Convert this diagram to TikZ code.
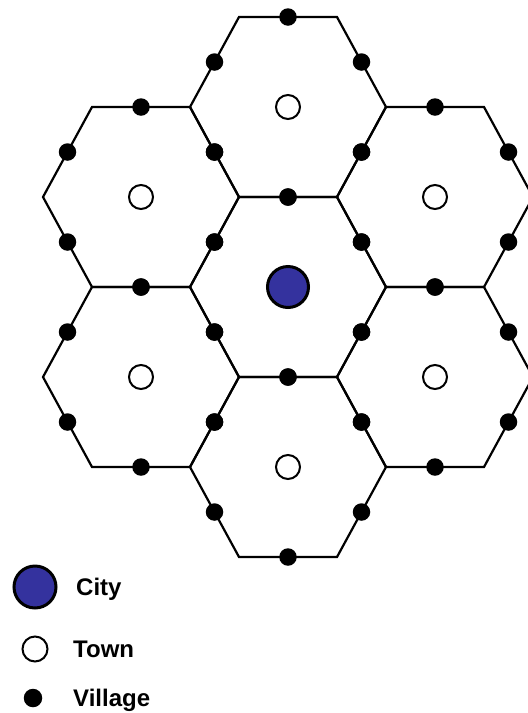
\documentclass[tikz,border=0pt]{standalone}
\usepackage{fontspec}
\setmainfont{Liberation Sans}
\definecolor{cityblue}{RGB}{52,50,158}
\begin{document}
\begin{tikzpicture}[x=1pt,y=-1pt,
  hexline/.style={line width=2.2pt,line join=miter},
  village/.style={circle,fill=black,inner sep=0pt,minimum size=17.5pt},
  town/.style={circle,draw=black,fill=white,line width=2pt,inner sep=0pt,minimum size=24pt},
  city/.style={circle,draw=black,fill=cityblue,line width=3pt,inner sep=0pt,minimum size=41pt},
  legtext/.style={anchor=base west,font=\bfseries\fontsize{24}{28}\selectfont,inner sep=0pt}]
\useasboundingbox (0,0) rectangle (528,713);
\begin{scope}
\clip (0,0) rectangle (528,713);
\def\a{98}\def\b{90}
\foreach \cx/\cy in {288/287,288/107,288/467,141/197,435/197,141/377,435/377}{
  \draw[hexline] (\cx-\a,\cy) -- (\cx-\a/2,\cy-\b) -- (\cx+\a/2,\cy-\b) -- (\cx+\a,\cy)
     -- (\cx+\a/2,\cy+\b) -- (\cx-\a/2,\cy+\b) -- cycle;
}
\foreach \cx/\cy in {288/287,288/107,288/467,141/197,435/197,141/377,435/377}{
  \foreach \dx/\dy in {0/-1,0/1,-0.75/-0.5,0.75/-0.5,-0.75/0.5,0.75/0.5}{
    \node[village] at (\cx+\dx*\a,\cy+\dy*\b) {};
  }
}
\node[city] (city) at (288,287) {};
\node[town] (t1) at (288,107) {};
\node[town] (t2) at (288,467) {};
\node[town] (t3) at (141,197) {};
\node[town] (t4) at (435,197) {};
\node[town] (t5) at (141,377) {};
\node[town] (t6) at (435,377) {};
\end{scope}
% legend
\node[city,minimum size=42pt] (lcity) at (35,587) {};
\node[town,minimum size=25pt] (ltown) at (35,649) {};
\node[village,minimum size=18.5pt] (lvillage) at (33,698) {};
\node[legtext] (tcity) at (76,595) {City};
\node[legtext] (ttown) at (73,657) {Town};
\node[legtext] (tvillage) at (73,706.5) {Village};
\end{tikzpicture}
\end{document}
